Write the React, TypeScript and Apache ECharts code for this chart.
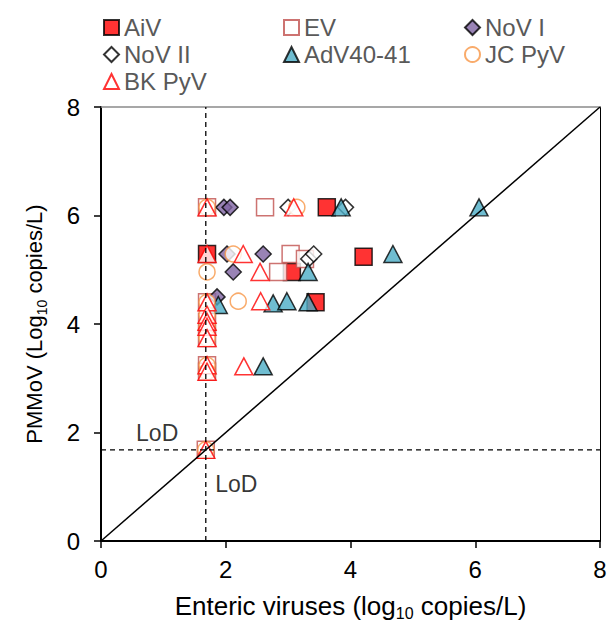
import React, { useEffect, useRef } from "react";
import * as echarts from "echarts";

const FONT = "'Liberation Sans', Arial, sans-serif";

const xTicks = { min: 0, max: 8, interval: 2 };
const yTicks = { min: 0, max: 8, interval: 2 };

const aiv = [[3.62, 6.15], [1.7, 5.29], [4.21, 5.24], [3.06, 4.96], [3.44, 4.4]];
const ev = [[1.7, 6.15], [2.63, 6.15], [3.04, 5.29], [3.27, 5.2], [2.84, 4.96], [1.7, 4.4], [1.7, 4.04], [1.7, 3.74], [1.7, 3.24], [1.7, 3.12], [1.68, 1.68]];
const novI = [[1.97, 6.15], [2.07, 6.15], [2.02, 5.29], [2.6, 5.29], [2.12, 4.96], [1.86, 4.5]];
const novII = [[3.0, 6.15], [3.92, 6.15], [3.33, 5.2], [3.41, 5.29]];
const adv = [[3.85, 6.15], [6.06, 6.15], [4.68, 5.29], [3.32, 4.96], [1.88, 4.35], [2.76, 4.38], [2.98, 4.42], [3.32, 4.4], [2.6, 3.22]];
const jc = [[1.7, 6.15], [3.14, 6.15], [2.12, 5.29], [1.7, 4.96], [2.2, 4.42], [1.7, 4.4], [1.7, 4.17], [1.7, 3.95], [1.7, 3.74], [1.7, 3.24], [1.7, 3.12], [1.68, 1.68]];
const bk = [[1.7, 6.15], [3.09, 6.15], [1.7, 5.29], [2.28, 5.29], [2.55, 4.96], [2.56, 4.42], [1.7, 4.4], [1.7, 4.17], [1.7, 4.04], [1.7, 3.95], [1.7, 3.74], [1.7, 3.24], [1.7, 3.12], [2.29, 3.22], [1.68, 1.68]];

const lod = 1.68;
const diagonal = [[0, 0], [8, 8]];
const lodVertical = [[lod, 0], [lod, 8]];
const lodHorizontal = [[0, lod], [8, lod]];
const lodLabels = [[0.9, 2.0], [2.17, 1.05]];

const xTitle = ["Enteric viruses (log", "10", " copies/L)"];
const yTitle = ["PMMoV (Log", "10", " copies/L)"];

const rich = (size: number, sub: number) => ({
  a: { fontSize: size, fontFamily: FONT, color: "#000", lineHeight: 30, verticalAlign: "middle" },
  s: { fontSize: sub, fontFamily: FONT, color: "#000", lineHeight: sub, verticalAlign: "bottom" },
});

function App() {
  const ref = useRef<HTMLDivElement>(null);
  useEffect(() => {
    if (!ref.current) return;
    const chart = echarts.init(ref.current, undefined, { renderer: "svg" });
    const scatter = (name: string, data: number[][], symbol: string, size: any, itemStyle: any) => ({
      name,
      type: "scatter",
      data,
      symbol,
      symbolSize: size,
      itemStyle,
      z: 2,
    });
    const line = (data: number[][], dashed: boolean) => ({
      type: "line",
      data,
      symbol: "none",
      silent: true,
      z: 5,
      lineStyle: { color: "#000", width: dashed ? 1.3 : 1.5, type: dashed ? [5, 4] : "solid" },
    });
    const legendBase = {
      orient: "vertical",
      top: 7,
      padding: 0,
      itemWidth: 15,
      itemHeight: 15,
      itemGap: 2,
      textStyle: { fontFamily: FONT, fontSize: 24, color: "#595959", lineHeight: 25 },
    };
    chart.setOption({
      animation: false,
      backgroundColor: "#fff",
      grid: { left: 93, right: 8, top: 99, bottom: 80, outerBoundsMode: "none", containLabel: false },
      legend: [
        { ...legendBase, left: 95, data: ["AiV", "NoV II", "BK PyV"] },
        { ...legendBase, left: 275, data: ["EV", "AdV40-41"] },
        { ...legendBase, left: 456, data: ["NoV I", "JC PyV"] },
      ],
      xAxis: [
        {
          type: "value",
          ...xTicks,
          position: "bottom",
          axisLine: { show: true, onZero: false, lineStyle: { color: "#000", width: 2 } },
          axisTick: { show: true, length: 7, lineStyle: { color: "#000", width: 1.5 } },
          axisLabel: { fontSize: 24, fontFamily: FONT, color: "#000", margin: 16 },
          splitLine: { show: false },
          name: `{a|${xTitle[0]}}{s|${xTitle[1]}}{a|${xTitle[2]}}`,
          nameLocation: "middle",
          nameGap: 50,
          nameTextStyle: { rich: rich(26, 16) },
        },
        {
          type: "value",
          ...xTicks,
          position: "top",
          axisLine: { show: true, onZero: false, lineStyle: { color: "#8a8a8a", width: 1.5 } },
          axisTick: { show: false },
          axisLabel: { show: false },
          splitLine: { show: false },
        },
      ],
      yAxis: [
        {
          type: "value",
          ...yTicks,
          position: "left",
          axisLine: { show: true, onZero: false, lineStyle: { color: "#000", width: 2 } },
          axisTick: { show: true, length: 7, lineStyle: { color: "#000", width: 1.5 } },
          axisLabel: { fontSize: 24, fontFamily: FONT, color: "#000", margin: 21 },
          splitLine: { show: false },
          name: `{a|${yTitle[0]}}{s|${yTitle[1]}}{a|${yTitle[2]}}`,
          nameLocation: "middle",
          nameRotate: 90,
          nameGap: 52,
          nameTextStyle: { rich: rich(22, 14) },
        },
        {
          type: "value",
          ...yTicks,
          position: "right",
          axisLine: { show: true, onZero: false, lineStyle: { color: "#000", width: 1 } },
          axisTick: { show: false },
          axisLabel: { show: false },
          splitLine: { show: false },
        },
      ],
      series: [
        scatter("AiV", aiv, "rect", [17, 17], { color: "#FF0000", borderColor: "#000", borderWidth: 1.5 }),
        scatter("EV", ev, "rect", [17, 17], { color: "#fff", borderColor: "#C0504D", borderWidth: 1.5 }),
        scatter("NoV I", novI, "diamond", [16, 16], { color: "#8064A2", borderColor: "#000", borderWidth: 1.5 }),
        scatter("NoV II", novII, "diamond", [16, 16], { color: "#fff", borderColor: "#000", borderWidth: 1.5 }),
        scatter("AdV40-41", adv, "triangle", [18, 17], { color: "#4BACC6", borderColor: "#000", borderWidth: 1.5 }),
        scatter("JC PyV", jc, "circle", [16, 16], { color: "#fff", borderColor: "#F79646", borderWidth: 1.5 }),
        scatter("BK PyV", bk, "triangle", [18, 17], { color: "#fff", borderColor: "#FF0000", borderWidth: 1.5 }),
        line(diagonal, false),
        line(lodVertical, true),
        line(lodHorizontal, true),
        {
          type: "scatter",
          data: lodLabels,
          symbolSize: 1,
          itemStyle: { color: "transparent" },
          silent: true,
          z: 6,
          label: {
            show: true,
            position: "inside",
            formatter: "LoD",
            fontFamily: FONT,
            fontSize: 23,
            color: "#000",
          },
        },
      ],
    });
    return () => chart.dispose();
  }, []);
  return <div ref={ref} style={{ width: 600, height: 613 }} />;
}

export default App;
